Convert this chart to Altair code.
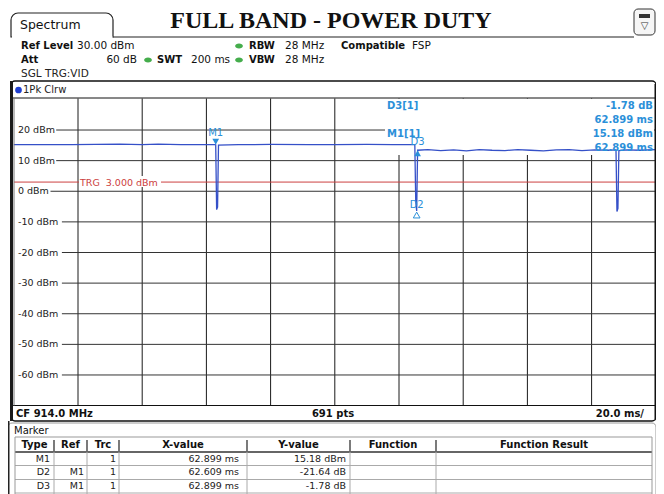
import altair as alt
import pandas as pd

# ------------------------------------------------------------------ data
title_text = "FULL BAND - POWER DUTY"

# trace (time in ms, level in dBm)
trace_ms = [0.0, 8.0, 18.0, 33.0, 40.0, 45.0, 52.0, 60.0, 62.609, 62.899, 63.188, 63.478, 63.768,
            70.0, 80.0, 92.0, 100.0, 110.0, 118.0, 124.928, 125.218, 125.508, 125.798,
            129.0, 133.0, 137.0, 141.0, 145.0, 149.0, 153.0, 157.0, 161.0, 165.0,
            169.0, 173.0, 177.0, 181.0, 185.0, 187.6, 187.9, 188.2, 188.5, 191.0, 195.0, 200.0]
trace_dbm = [15.2, 15.2, 15.2, 15.4, 15.2, 15.4, 15.2, 15.2, 15.2, 15.18, -6.0, -5.2, 15.1,
             15.2, 15.3, 15.2, 15.2, 15.3, 15.2, 15.2, -3.5, -6.46, 13.40,
             13.6, 13.3, 13.5, 13.2, 13.6, 13.4, 13.3, 13.6, 13.4, 13.2,
             13.5, 13.6, 13.3, 13.5, 13.4, 13.5, -6.6, -5.6, 13.3, 13.5, 13.4, 13.6]

y_ticks = [20, 10, 0, -10, -20, -30, -40, -50, -60]
x_grid_ms = [20, 40, 60, 80, 100, 120, 140, 160, 180]
trg_level = 3.0

marker_names = ["M1", "D2", "D3"]
marker_ms = [62.899, 125.508, 125.798]
marker_dbm = [15.18, -6.46, 13.40]

info_left = ["D3[1]", "M1[1]"]
info_right = ["-1.78 dB", "62.899 ms", "15.18 dBm", "62.899 ms"]

tbl_headers = ["Type", "Ref", "Trc", "X-value", "Y-value", "Function", "Function Result"]
tbl_type = ["M1", "D2", "D3"]
tbl_ref = ["", "M1", "M1"]
tbl_trc = ["1", "1", "1"]
tbl_x = ["62.899 ms", "62.609 ms", "62.899 ms"]
tbl_y = ["15.18 dBm", "-21.64 dB", "-1.78 dB"]

# ------------------------------------------------------------------ layout helpers
def P(x):
    return x - 8


def Q(y):
    return y - 8


FONT = "DejaVu Sans"
BLUE_M = "#2b90d9"
TRACE = "#3550c8"
RED = "#cc4040"
GREEN = "#45ad4c"

XS = alt.Scale(domain=[0, 200], range=[P(13.8), P(655.8)], nice=False, zero=False)
YS = alt.Scale(domain=[-70, 30], range=[Q(405.6), Q(99.4)], nice=False, zero=False)

one = pd.DataFrame({"a": [1]})
layers = []


def T(s, x, y, size=10, weight="normal", color="#111", align="left", font=FONT):
    layers.append(alt.Chart(one).mark_text(text=s, fontSize=size, fontWeight=weight, color=color,
                                            align=align, baseline="middle", font=font)
                  .encode(x=alt.value(P(x)), y=alt.value(Q(y))))


def R(x1, y1, x2, y2, color="#111", w=1.0):
    layers.append(alt.Chart(one).mark_rule(color=color, strokeWidth=w)
                  .encode(x=alt.value(P(x1)), x2=alt.value(P(x2)), y=alt.value(Q(y1)), y2=alt.value(Q(y2))))


def B(x1, y1, x2, y2, fill="white", stroke=None, w=1.0, **kw):
    props = dict(fill=fill, **kw)
    if stroke:
        props.update(stroke=stroke, strokeWidth=w)
    layers.append(alt.Chart(one).mark_rect(**props)
                  .encode(x=alt.value(P(x1)), x2=alt.value(P(x2)), y=alt.value(Q(y1)), y2=alt.value(Q(y2))))


def dot(x, y, color, size=60, shape="M -1 0 A 1 0.62 0 1 1 1 0 A 1 0.62 0 1 1 -1 0 Z"):
    layers.append(alt.Chart(one).mark_point(shape=shape, size=size, filled=True, color=color, opacity=1)
                  .encode(x=alt.value(P(x)), y=alt.value(Q(y))))


# ------------------------------------------------------------------ header
B(0, 0, 670, 510, fill="white")
B(11, 13, 113, 37, fill="white", stroke="#222", w=1.2, cornerRadiusTopLeft=7, cornerRadiusTopRight=7)
R(12, 37, 112.4, 37, color="white", w=2)
R(113, 37, 634, 37, color="#222", w=1.2)
T("Spectrum", 20, 25, size=12.5)
T(title_text, 331, 21, size=24, weight="bold", font="Liberation Serif", align="center")
B(634, 9, 655, 35, fill="#f6f6f6", stroke="#333", w=1, cornerRadius=4)
B(639, 14, 650, 18, fill="#333")
T("\u25bd", 644.5, 26, size=10, align="center", color="#333")

T("Ref Level", 21, 46, size=10, weight="bold")
T("30.00 dBm", 77, 46, size=10.5)
T("Att", 21, 60, size=10, weight="bold")
T("60 dB", 137, 60, size=10.5, align="right")
dot(148, 60, GREEN)
T("SWT", 157, 60, size=10, weight="bold")
T("200 ms", 191, 60, size=10.5)
dot(239, 46, GREEN)
dot(239, 60, GREEN)
T("RBW", 249, 46, size=10, weight="bold")
T("28 MHz", 285, 46, size=10.5)
T("VBW", 249, 60, size=10, weight="bold")
T("28 MHz", 285, 60, size=10.5)
T("Compatible", 341, 46, size=10, weight="bold")
T("FSP", 412, 46, size=10.5)
T("SGL TRG:VID", 21, 74, size=10.5, color="#222")

# ------------------------------------------------------------------ plot panel
B(11, 81, 656, 421, fill="white", stroke="#111", w=1.5, cornerRadius=4)
dot(18.5, 90, "#1f3fd0", size=45, shape="circle")
T("1Pk Clrw", 23, 90, size=10, color="#222")
R(12, 98, 655, 98, color="#111", w=1)

grid_v = pd.DataFrame({"t": x_grid_ms})
layers.append(alt.Chart(grid_v).mark_rule(color="#1a1a1a", strokeWidth=1).encode(
    x=alt.X("t:Q", scale=XS, axis=None), y=alt.value(Q(98.5)), y2=alt.value(Q(405.5))))

tick_labels = [f"{v} dBm" for v in y_ticks]
grid_h = pd.DataFrame({"v": y_ticks, "lab": tick_labels, "n": [len(s) for s in tick_labels]})
for n in sorted(set(grid_h["n"])):
    sub = grid_h[grid_h["n"] == n]
    layers.append(alt.Chart(sub).mark_rule(color="#333", strokeWidth=1).encode(
        y=alt.Y("v:Q", scale=YS, axis=None), x=alt.value(P(22 + n * 5.7)), x2=alt.value(P(655))))
layers.append(alt.Chart(grid_h).mark_text(align="left", baseline="middle", fontSize=9.5, font=FONT,
                                          color="#222").encode(
    y=alt.Y("v:Q", scale=YS, axis=None), x=alt.value(P(18)), text="lab:N"))

# marker info box (white) covering the grid
B(385, 99, 654, 155, fill="white")

# trigger line
trg = pd.DataFrame({"v": [trg_level], "lab": [f"TRG\u00a0\u00a0{trg_level:.3f} dBm"]})
layers.append(alt.Chart(trg).mark_rule(color=RED, strokeWidth=1).encode(
    y=alt.Y("v:Q", scale=YS, axis=None), x=alt.value(P(14)), x2=alt.value(P(655))))
B(79, 176, 161, 187, fill="white")
layers.append(alt.Chart(trg).mark_text(align="left", baseline="middle", fontSize=9.5, font=FONT,
                                       color=RED, dy=1).encode(
    y=alt.Y("v:Q", scale=YS, axis=None), x=alt.value(P(80)), text="lab:N"))

# trace
tr = pd.DataFrame({"t": trace_ms, "v": trace_dbm})
layers.append(alt.Chart(tr).mark_line(color=TRACE, strokeWidth=1.3).encode(
    x=alt.X("t:Q", scale=XS, axis=None), y=alt.Y("v:Q", scale=YS, axis=None)))

# markers
mk = pd.DataFrame({"name": marker_names, "t": marker_ms, "v": marker_dbm})
enc = dict(x=alt.X("t:Q", scale=XS, axis=None), y=alt.Y("v:Q", scale=YS, axis=None))
m1 = mk[mk["name"] == "M1"]
d2 = mk[mk["name"] == "D2"]
d3 = mk[mk["name"] == "D3"]
layers.append(alt.Chart(m1).mark_point(shape="triangle-down", size=45, filled=True, color=BLUE_M,
                                       opacity=1, yOffset=-3).encode(**enc))
layers.append(alt.Chart(d3).mark_point(shape="triangle-up", size=45, filled=True, color=BLUE_M,
                                       opacity=1, yOffset=3).encode(**enc))
layers.append(alt.Chart(d2).mark_point(shape="triangle-up", size=45, filled=False, color=BLUE_M,
                                       opacity=1, strokeWidth=1, yOffset=4).encode(**enc))
layers.append(alt.Chart(m1).mark_text(fontSize=10, font=FONT, color=BLUE_M, dy=-12).encode(
    text="name:N", **enc))
layers.append(alt.Chart(d3).mark_text(fontSize=10, font=FONT, color=BLUE_M, dy=-8).encode(
    text="name:N", **enc))
layers.append(alt.Chart(d2).mark_text(fontSize=10, font=FONT, color=BLUE_M, dy=-6).encode(
    text="name:N", **enc))

# marker info text
T(info_left[0], 387, 106, size=10, weight="bold", color=BLUE_M)
T(info_left[1], 387, 134, size=10, weight="bold", color=BLUE_M)
for i, s in enumerate(info_right):
    T(s, 653, 106 + i * 14, size=10, weight="bold", color=BLUE_M, align="right")

# frame details
R(12, 405.5, 655, 405.5, color="#111", w=1.2)
B(10, 81, 13, 421, fill="#1a1a1a")
R(14, 98, 14, 405.5, color="#777", w=1)
R(655.5, 84, 655.5, 419, color="#111", w=2)
T("CF 914.0 MHz", 16, 414, size=10, weight="bold")
T("691 pts", 333, 414, size=10, weight="bold", align="center")
T("20.0 ms/", 644, 414, size=10, weight="bold", align="right")

# ------------------------------------------------------------------ marker table
B(8, 423, 656, 520, fill="white", stroke="#9a9a9a", w=1, cornerRadius=4)
R(8.5, 421, 8.5, 496, color="#222", w=2)
T("Marker", 14, 431, size=10)
col_edges = [15, 54, 87, 119, 247, 350, 436, 652]
R(15, 437, 652, 437, color="#999", w=1)
R(15, 452, 652, 452, color="#333", w=1.5)
for yy in [465.5, 479.5, 493]:
    R(15, yy, 652, yy, color="#aaa", w=1)
R(15, 437, 15, 496, color="#999", w=1)
R(652, 437, 652, 496, color="#999", w=1)
for xx in col_edges[1:-1]:
    R(xx, 440, xx, 451, color="#222", w=1.2)
    R(xx, 452, xx, 496, color="#aaa", w=1)
for i, h in enumerate(tbl_headers):
    T(h, (col_edges[i] + col_edges[i + 1]) / 2, 445, size=10, weight="bold", align="center")

tbl = pd.DataFrame({"row": [0, 1, 2], "type": tbl_type, "ref": tbl_ref, "trc": tbl_trc,
                    "xv": tbl_x, "yv": tbl_y})
RS = alt.Scale(domain=[0, 2], range=[Q(458.5), Q(486)], nice=False, zero=False)
for field, xr in [("type", 50), ("ref", 84), ("trc", 116), ("xv", 239), ("yv", 346)]:
    layers.append(alt.Chart(tbl).mark_text(align="right", baseline="middle", fontSize=9.5, font=FONT,
                                           color="#222").encode(
        y=alt.Y("row:Q", scale=RS, axis=None), x=alt.value(P(xr)), text=f"{field}:N"))

chart = (alt.layer(*layers)
         .resolve_scale(x="independent", y="independent")
         .properties(width=648, height=488, padding=0, background="white",
                     autosize=alt.AutoSizeParams(type="none"))
         .configure_view(stroke=None))

chart.save("out.html", embed_options={"renderer": "svg", "actions": False})
